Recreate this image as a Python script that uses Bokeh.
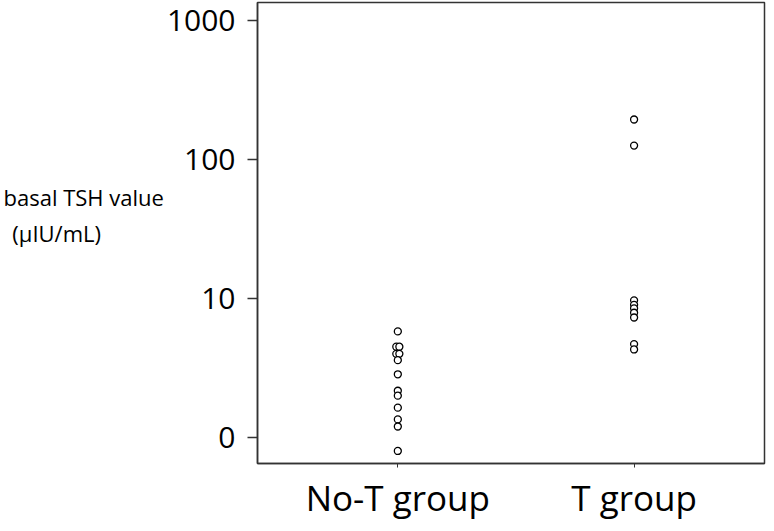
import numpy as np
from collections import Counter
from bokeh.plotting import figure
from bokeh.models import Range1d, FixedTicker, ColumnDataSource
from bokeh.embed import file_html
from bokeh.resources import INLINE

# ---- data ----
groups = ["No-T group", "T group"]
no_t_values = [5.8, 4.5, 4.5, 4.0, 4.0, 3.6, 2.85, 2.17, 2.0, 1.64, 1.35, 1.2, 0.8]
t_values = [194, 126, 9.7, 9.0, 8.5, 7.9, 7.3, 4.7, 4.3]
y_ticks = [1, 10, 100, 1000]
y_tick_labels = ["0", "10", "100", "1000"]
y_label_lines = ["basal TSH value", "(µIU/mL)"]

FONT = "Open Sans"
NBSP = "\u00a0"

def swarm(pos, vals, step=0.013):
    counts = Counter(vals)
    seen = Counter()
    xs = []
    for v in vals:
        k = counts[v]
        i = seen[v]
        seen[v] += 1
        xs.append(pos + (i - (k - 1) / 2) * step)
    return xs

xs, ys = [], []
for i, vals in enumerate([no_t_values, t_values]):
    xs += swarm(i + 1, vals)
    ys += vals
src = ColumnDataSource(dict(x=xs, y=ys))

p = figure(width=766, height=523, y_axis_type="log",
           x_range=Range1d(0.406, 2.552), y_range=Range1d(0.650, 1348),
           output_backend="svg", toolbar_location=None,
           min_border_left=251, min_border_right=2,
           min_border_top=2, min_border_bottom=58)

p.xgrid.grid_line_color = None
p.ygrid.grid_line_color = None
p.outline_line_color = "#333333"
p.outline_line_width = 1.5
p.background_fill_color = "white"
p.border_fill_color = "white"

# y axis
p.yaxis.ticker = FixedTicker(ticks=y_ticks)
p.yaxis.major_label_overrides = {t: l for t, l in zip(y_ticks, y_tick_labels)}
p.yaxis.major_tick_out = 10
p.yaxis.major_tick_in = 0
p.yaxis.minor_tick_line_color = None
p.yaxis.major_label_standoff = 12
p.yaxis.major_label_text_font = FONT
p.yaxis.major_label_text_font_size = "30px"
p.yaxis.major_label_text_color = "black"
p.yaxis.axis_line_color = "#333333"
p.yaxis.axis_line_width = 1.5
p.yaxis.major_tick_line_color = "#333333"
p.yaxis.major_tick_line_width = 1.5

# horizontal y-axis title (lines visually left-aligned)
label_text = (y_label_lines[0] + "\n" + y_label_lines[1] + NBSP * 11 + "\n" + NBSP)
p.yaxis.axis_label_orientation = "horizontal"
p.yaxis.axis_label = label_text
p.yaxis.axis_label_text_font = FONT
p.yaxis.axis_label_text_font_size = "22px"
p.yaxis.axis_label_text_font_style = "normal"
p.yaxis.axis_label_text_color = "black"
p.yaxis.axis_label_standoff = 0

# x axis
p.xaxis.ticker = FixedTicker(ticks=[1, 2])
p.xaxis.major_label_overrides = {i + 1: g for i, g in enumerate(groups)}
p.xaxis.major_tick_out = 4
p.xaxis.major_tick_in = 0
p.xaxis.minor_tick_line_color = None
p.xaxis.major_label_standoff = 6
p.xaxis.major_label_text_font = FONT
p.xaxis.major_label_text_font_size = "35px"
p.xaxis.major_label_text_color = "black"
p.xaxis.axis_line_color = "#333333"
p.xaxis.axis_line_width = 1.5
p.xaxis.major_tick_line_color = "#333333"

p.scatter("x", "y", source=src, marker="circle", size=7,
          line_color="black", fill_color="white", line_width=1.3)

open("out.html", "w").write(file_html(p, INLINE))
